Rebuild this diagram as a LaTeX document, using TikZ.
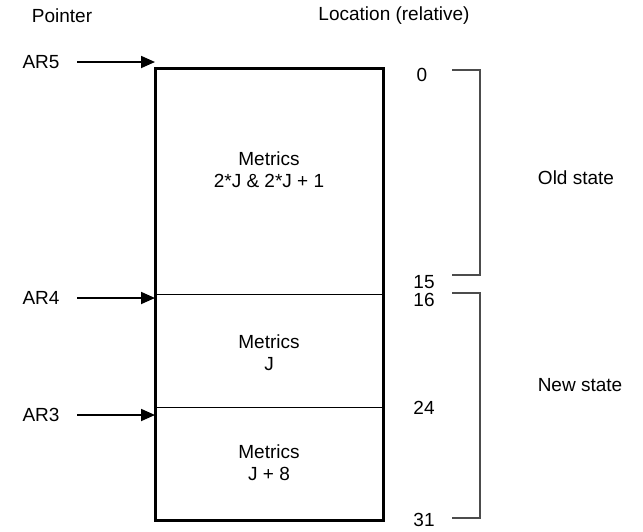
\documentclass[tikz,border=0pt]{standalone}
\usepackage{fontspec}
\setmainfont{Liberation Sans}
\usetikzlibrary{arrows.meta,positioning}

\begin{document}
\begin{tikzpicture}[x=1pt,y=-1pt,font=\fontsize{19}{22}\selectfont,
  ptr/.style={-{Triangle[length=14pt,width=12pt]},line width=1.8pt},
  brk/.style={black!70,line width=1.2pt}]
\useasboundingbox (0,0) rectangle (643,531);
\node (pointer) at (62,16) {Pointer};
\node (location) at (394,16) {Location (relative)};
% the block of metrics
\draw[line width=3pt] (155,68) rectangle (383,520);
\draw[line width=0.9pt] (155,294) -- (383,294);
\draw[line width=0.9pt] (155,407) -- (383,407);
\node[align=center] (oldm) at (269,170) {Metrics\\2*J \& 2*J + 1};
\node[align=center] (jm) at (269,353) {Metrics\\J};
\node[align=center] (j8m) at (269,463) {Metrics\\J + 8};
% pointers
\foreach \y/\lab in {62/AR5,298/AR4,415/AR3}{
  \node (\lab) at (41,\y) {\lab};
  \coordinate (\lab tip) at (155,\y);
  \draw[ptr] ([xshift=14pt]\lab.east) -- (\lab tip);
}
% locations
\foreach \x/\y/\lab in {422/75/0,424/282/15,424/300/16,424/408/24,424/520/31}{
  \node[inner sep=1pt] (loc\lab) at (\x,\y) {\lab};
}
\draw[brk] (452,70) -| (480,275) -- (452,275);
\draw[brk] (452,293) -| (480,518) -- (452,518);
\node (old) at (576,178) {Old state};
\node (new) at (580,385) {New state};
\end{tikzpicture}
\end{document}
